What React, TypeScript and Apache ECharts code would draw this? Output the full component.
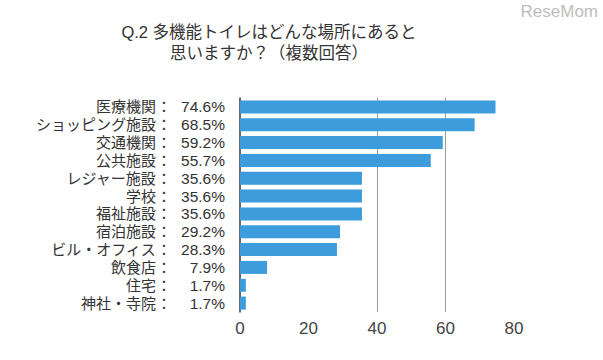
import React, { useEffect, useRef } from "react";
import * as echarts from "echarts";

const categories = [
  "医療機関",
  "ショッピング施設",
  "交通機関",
  "公共施設",
  "レジャー施設",
  "学校",
  "福祉施設",
  "宿泊施設",
  "ビル・オフィス",
  "飲食店",
  "住宅",
  "神社・寺院",
];
const values = [74.6, 68.5, 59.2, 55.7, 35.6, 35.6, 35.6, 29.2, 28.3, 7.9, 1.7, 1.7];
const xTicks = [0, 20, 40, 60, 80];
const titleLines = ["Q.2 多機能トイレはどんな場所にあると", "思いますか？（複数回答）"];
const logoText = "ReseMom";

export default function App() {
  const ref = useRef<HTMLDivElement>(null);
  useEffect(() => {
    if (!ref.current) return;
    const chart = echarts.init(ref.current, undefined, { renderer: "svg" });
    const numFont = "'Liberation Sans', 'Noto Sans', sans-serif";
    const labelFont = "'Liberation Sans', 'Noto Sans CJK JP', sans-serif";
    chart.setOption({
      animation: false,
      backgroundColor: "#ffffff",
      textStyle: { fontFamily: labelFont },
      title: {
        text: titleLines.join("\n"),
        left: 264,
        top: 16,
        textAlign: "center",
        textStyle: {
          fontFamily: labelFont,
          fontSize: 16.5,
          fontWeight: "normal",
          color: "#333",
          lineHeight: 21,
          align: "center",
        },
      },
      graphic: [
        {
          type: "text",
          right: 5,
          top: 3,
          style: {
            text: logoText,
            fontFamily: numFont,
            fontSize: 17,
            fill: "#bdbdbd",
          },
        },
      ],
      grid: { left: 240, right: 89, top: 98, bottom: 48, containLabel: false },
      xAxis: {
        type: "value",
        min: xTicks[0],
        max: xTicks[xTicks.length - 1],
        interval: 20,
        axisLine: { show: false },
        axisTick: { show: false },
        axisLabel: {
          color: "#444",
          fontSize: 17,
          margin: 8,
          fontFamily: numFont,
        },
        splitLine: {
          show: true,
          showMinLine: true,
          showMaxLine: true,
          lineStyle: {
            color: ["rgba(0,0,0,0)", "rgba(0,0,0,0)", "#9a9a9a", "#9a9a9a", "rgba(0,0,0,0)"],
            width: 1,
          },
        },
      },
      yAxis: {
        type: "category",
        data: categories,
        inverse: true,
        axisLine: { show: true, lineStyle: { color: "#2a3a4a", width: 1.5 } },
        axisTick: { show: false },
        axisLabel: {
          margin: 15,
          lineHeight: 16,
          formatter: (val: string, idx: number) =>
            `{n|${val}}{c|：}{v|${values[idx].toFixed(1)}%}`,
          rich: {
            n: { fontSize: 15, lineHeight: 16, color: "#333", fontFamily: labelFont, align: "right" },
            c: { fontSize: 15, lineHeight: 16, color: "#333", fontFamily: labelFont, width: 16, align: "center" },
            v: {
              fontSize: 15.5,
              lineHeight: 16,
              color: "#333",
              fontFamily: numFont,
              width: 53,
              align: "right",
            },
          },
        },
      },
      series: [
        {
          type: "bar",
          data: values,
          barWidth: 13,
          itemStyle: { color: "#3c9cdc" },
        },
      ],
    });
    return () => chart.dispose();
  }, []);
  return (
    <div
      ref={ref}
      style={{ position: "fixed", left: 0, top: 0, width: 603, height: 360 }}
    />
  );
}
